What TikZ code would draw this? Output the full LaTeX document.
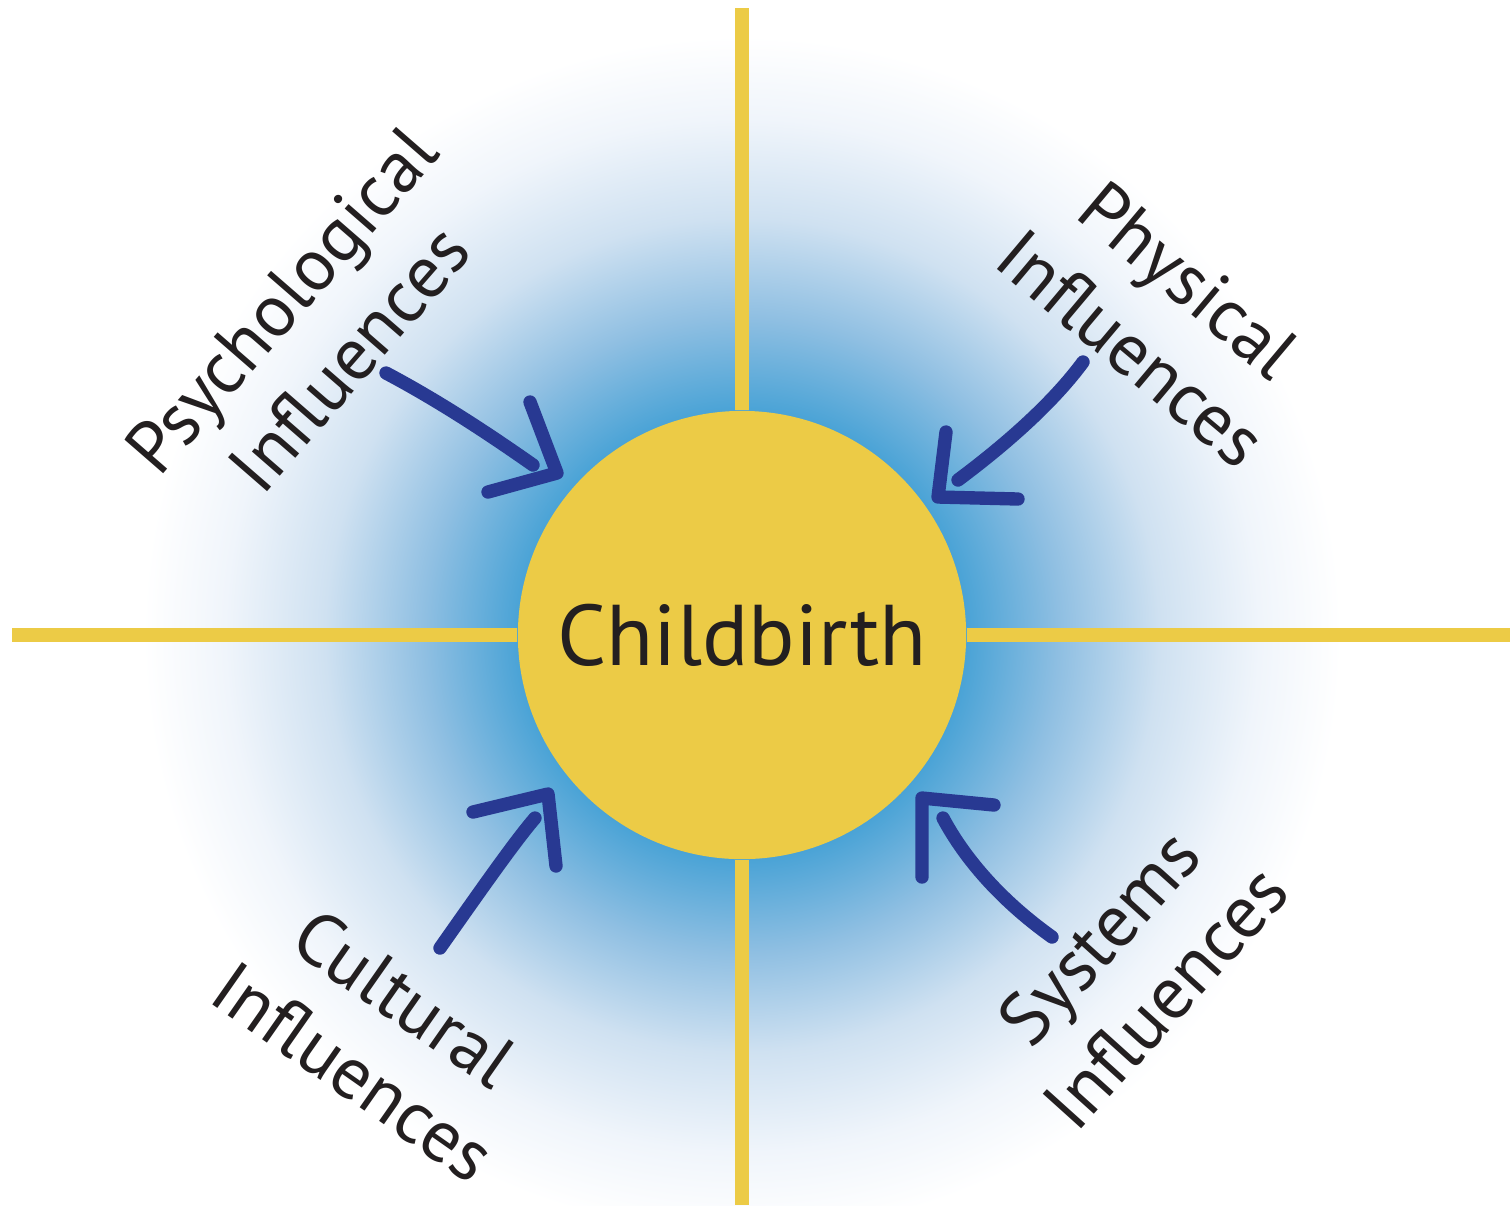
\documentclass[tikz,border=0pt]{standalone}
\usepackage{fontspec}
\setmainfont{PT Sans}
\definecolor{sunyellow}{RGB}{236,203,70}
\definecolor{inkblue}{RGB}{40,57,146}
\definecolor{haloA}{RGB}{74,163,214}
\definecolor{haloB}{RGB}{143,191,226}
\definecolor{haloC}{RGB}{207,225,241}
\definecolor{haloD}{RGB}{240,245,251}
\definecolor{textgrey}{RGB}{35,31,32}
\pgfdeclareradialshading{halo}{\pgfpoint{0bp}{0bp}}{color(0bp)=(haloA);color(8.75bp)=(haloA);color(12.4bp)=(haloB);color(16.3bp)=(haloC);color(20.2bp)=(haloD);color(23.4bp)=(white);color(50bp)=(white)}

\begin{document}
\begin{tikzpicture}[x=0.01cm,y=-0.01cm,axis/.style={draw=sunyellow,line width=4pt},brush/.style={draw=inkblue,line width=3.8pt,line cap=round,line join=round},influence/.style={align=center,text=textgrey,font=\fontsize{21}{25.5}\selectfont}]
\useasboundingbox (0,0) rectangle (1510,1205);
\shade[shading=halo] (742,635) circle (640);
\coordinate (top) at (742,8);
\coordinate (bottom) at (742,1205);
\coordinate (left) at (12,635);
\coordinate (right) at (1510,635);
\node[circle,fill=sunyellow,minimum size=4.48cm,inner sep=0pt,text=textgrey,font=\fontsize{24.5}{30}\selectfont] (birth) at (742,635) {Childbirth};
\draw[axis] (top)--(birth.north);
\draw[axis] (birth.south)--(bottom);
\draw[axis] (left)--(birth.west);
\draw[axis] (birth.east)--(right);
% the four influences
\node[influence,rotate=49] (psych) at (315,329) {Psychological\\Influences};
\node[influence,rotate=-40] (phys) at (1160,314) {Physical\\Influences};
\node[influence,rotate=-35] (cult) at (379,1035) {Cultural\\Influences};
\node[influence,rotate=48] (sys) at (1132,967) {Systems\\Influences};
% brush arrows
\draw[brush] (386,373) .. controls (437,400) and (486,432) .. (533,465);
\draw[brush] (530,402)--(557,473)--(488,492);
\draw[brush] (1083,362) .. controls (1058,396) and (1017,436) .. (958,480);
\draw[brush] (946,432)--(938,497)--(1018,499);
\draw[brush] (440,948) .. controls (485,884) and (516,840) .. (535,818);
\draw[brush] (473,812)--(548,794)--(556,866);
\draw[brush] (1052,937) .. controls (1003,902) and (966,861) .. (943,818);
\draw[brush] (994,805)--(922,798)--(922,877);
\end{tikzpicture}
\end{document}
